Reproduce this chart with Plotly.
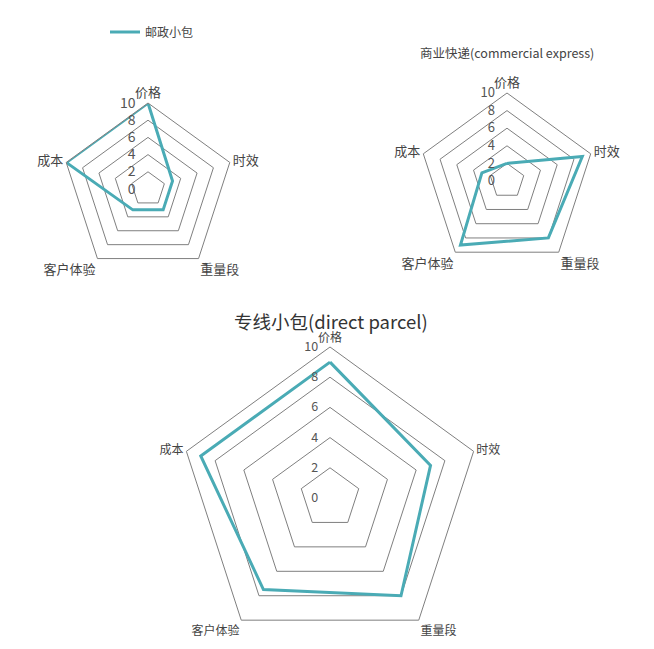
import plotly.graph_objects as go

categories = ['价格', '时效', '重量段', '客户体验', '成本']
postal_parcel = [10, 3, 3, 3, 10]
commercial_express = [2, 9, 8, 9, 3]
direct_parcel = [9, 7, 8, 7.5, 9]
radial_ticks = [0, 2, 4, 6, 8, 10]

W, H = 654, 649
TEAL = '#4aabb5'
GRID = '#7f7f7f'
FONT = 'Noto Sans CJK SC'


def closed(vals):
    return list(vals) + [vals[0]]


def dom(cx, cy, r):
    # pixel centre/radius -> paper domain
    return dict(x=[(cx - r) / W, (cx + r) / W], y=[1 - (cy + r) / H, 1 - (cy - r) / H])


def polar_style(cx, cy, r, tick_size, label_size):
    return dict(
        domain=dom(cx, cy, r),
        gridshape='linear',
        bgcolor='white',
        radialaxis=dict(
            range=[0, 10], tickvals=radial_ticks, angle=90, side='counterclockwise',
            showline=False, ticks='outside', ticklen=7, tickcolor='rgba(0,0,0,0)',
            gridcolor=GRID, gridwidth=1,
            tickfont=dict(size=tick_size, color='#555', family=FONT), tickangle=90,
        ),
        angularaxis=dict(
            direction='clockwise', rotation=90, showgrid=False, ticks='',
            showline=True, linecolor=GRID, linewidth=1,
            tickfont=dict(size=label_size, color='#444', family=FONT),
        ),
    )


fig = go.Figure()
fig.add_trace(go.Scatterpolar(r=closed(postal_parcel), theta=closed(categories), mode='lines',
                              name='邮政小包', line=dict(color=TEAL, width=3), subplot='polar'))
fig.add_trace(go.Scatterpolar(r=closed(commercial_express), theta=closed(categories), mode='lines',
                              name='商业快递', line=dict(color=TEAL, width=3), subplot='polar2',
                              showlegend=False))
fig.add_trace(go.Scatterpolar(r=closed(direct_parcel), theta=closed(categories), mode='lines',
                              name='专线小包', line=dict(color=TEAL, width=3), subplot='polar3',
                              showlegend=False))

fig.update_layout(
    width=W, height=H,
    margin=dict(l=0, r=0, t=0, b=0),
    paper_bgcolor='white',
    font=dict(family=FONT, color='#444'),
    polar=polar_style(148, 189, 86, 14, 13),
    polar2=polar_style(507, 181, 88, 13, 13),
    polar3=polar_style(330, 498, 151, 12.5, 12),
    legend=dict(x=105 / W, y=1 - 32 / H, xanchor='left', yanchor='middle',
                font=dict(size=12, color='#444', family=FONT), bgcolor='rgba(0,0,0,0)'),
    annotations=[
        dict(text='商业快递(commercial express)', x=507 / W, y=1 - 41 / H, xref='paper', yref='paper',
             xanchor='center', showarrow=False, font=dict(size=12.5, color='#444', family=FONT)),
        dict(text='专线小包(direct parcel)', x=331 / W, y=1 - 321 / H, xref='paper', yref='paper',
             xanchor='center', showarrow=False, font=dict(size=18.5, color='#333', family=FONT)),
    ],
)

# page body has a default 8px margin; drop it so the figure sits at the window corner
fig.write_html('out.html', config={'displayModeBar': False},
               post_script="document.body.style.margin='0';")
